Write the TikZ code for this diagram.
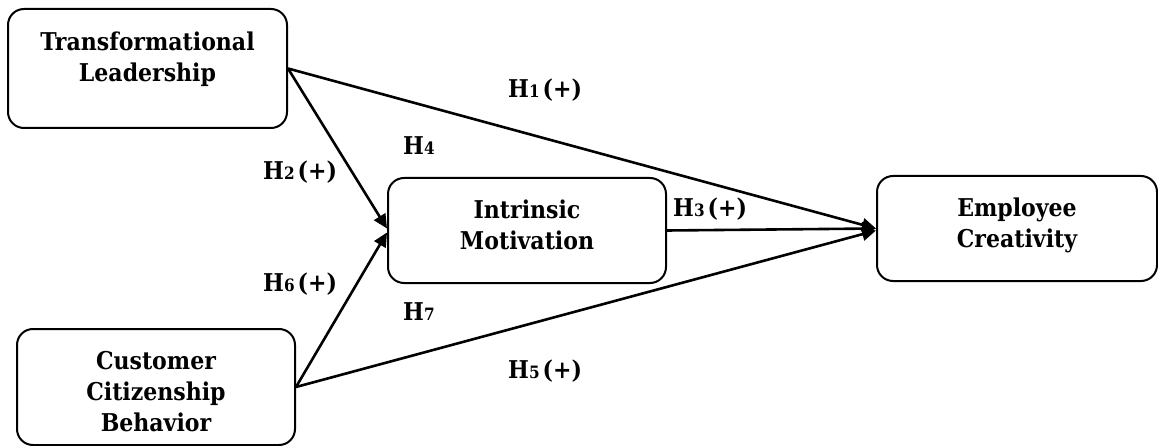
\documentclass[tikz,border=0pt]{standalone}
\usepackage{fontspec}
\setmainfont{DejaVu Serif Condensed}
\usetikzlibrary{arrows.meta}
\newcommand{\Hyp}[1]{H{\fontsize{17}{17}\selectfont #1}}
\newcommand{\Pos}{\hspace{3pt}(+)}
\tikzset{
  box/.style={draw, line width=2pt, rounded corners=16pt, inner sep=0pt},
  boxtext/.style={align=center, inner sep=0pt, font=\fontsize{24.5}{31}\selectfont\bfseries},
  hyp/.style={anchor=base west, inner sep=0pt, font=\fontsize{24.5}{31}\selectfont\bfseries},
  arr/.style={line width=2.6pt, -{Triangle[length=14pt,width=13pt]}}
}
\begin{document}
\begin{tikzpicture}[x=1pt,y=-1pt]
\useasboundingbox (0,0) rectangle (1158,446);
% boxes
\node[box, minimum width=279pt, minimum height=119pt] (tl) at (147.5,68.5) {};
\node[box, minimum width=278pt, minimum height=116pt] (ccb) at (156,387) {};
\node[box, minimum width=278pt, minimum height=105pt] (im) at (527,230.5) {};
\node[box, minimum width=280pt, minimum height=105pt] (ec) at (1017,228.5) {};
% texts
\node[boxtext] (tlt) at (147.5,59.5) {Transformational\\Leadership};
\node[boxtext] (ccbt) at (156,392) {Customer\\Citizenship\\Behavior};
\node[boxtext] (imt) at (527,225) {Intrinsic\\Motivation};
\node[boxtext] (ect) at (1017,225) {Employee\\Creativity};
% connectors
\draw[arr] (tl.east) -- ([yshift=2pt]im.west);
\draw[arr] (ccb.east) -- ([yshift=-2pt]im.west);
\draw[arr] (tl.east) -- (ec.west);
\draw[arr] (ccb.east) -- ([yshift=-2pt]ec.west);
\draw[arr] (im.east) -- (ec.west);
% labels
\node[hyp] (h1) at (508,98) {\Hyp{1}\Pos};
\node[hyp] (h2) at (263,180) {\Hyp{2}\Pos};
\node[hyp] (h3) at (673,217) {\Hyp{3}\Pos};
\node[hyp] (h4) at (403,155) {\Hyp{4}};
\node[hyp] (h5) at (508,378) {\Hyp{5}\Pos};
\node[hyp] (h6) at (263,291) {\Hyp{6}\Pos};
\node[hyp] (h7) at (403,320) {\Hyp{7}};
\end{tikzpicture}
\end{document}
